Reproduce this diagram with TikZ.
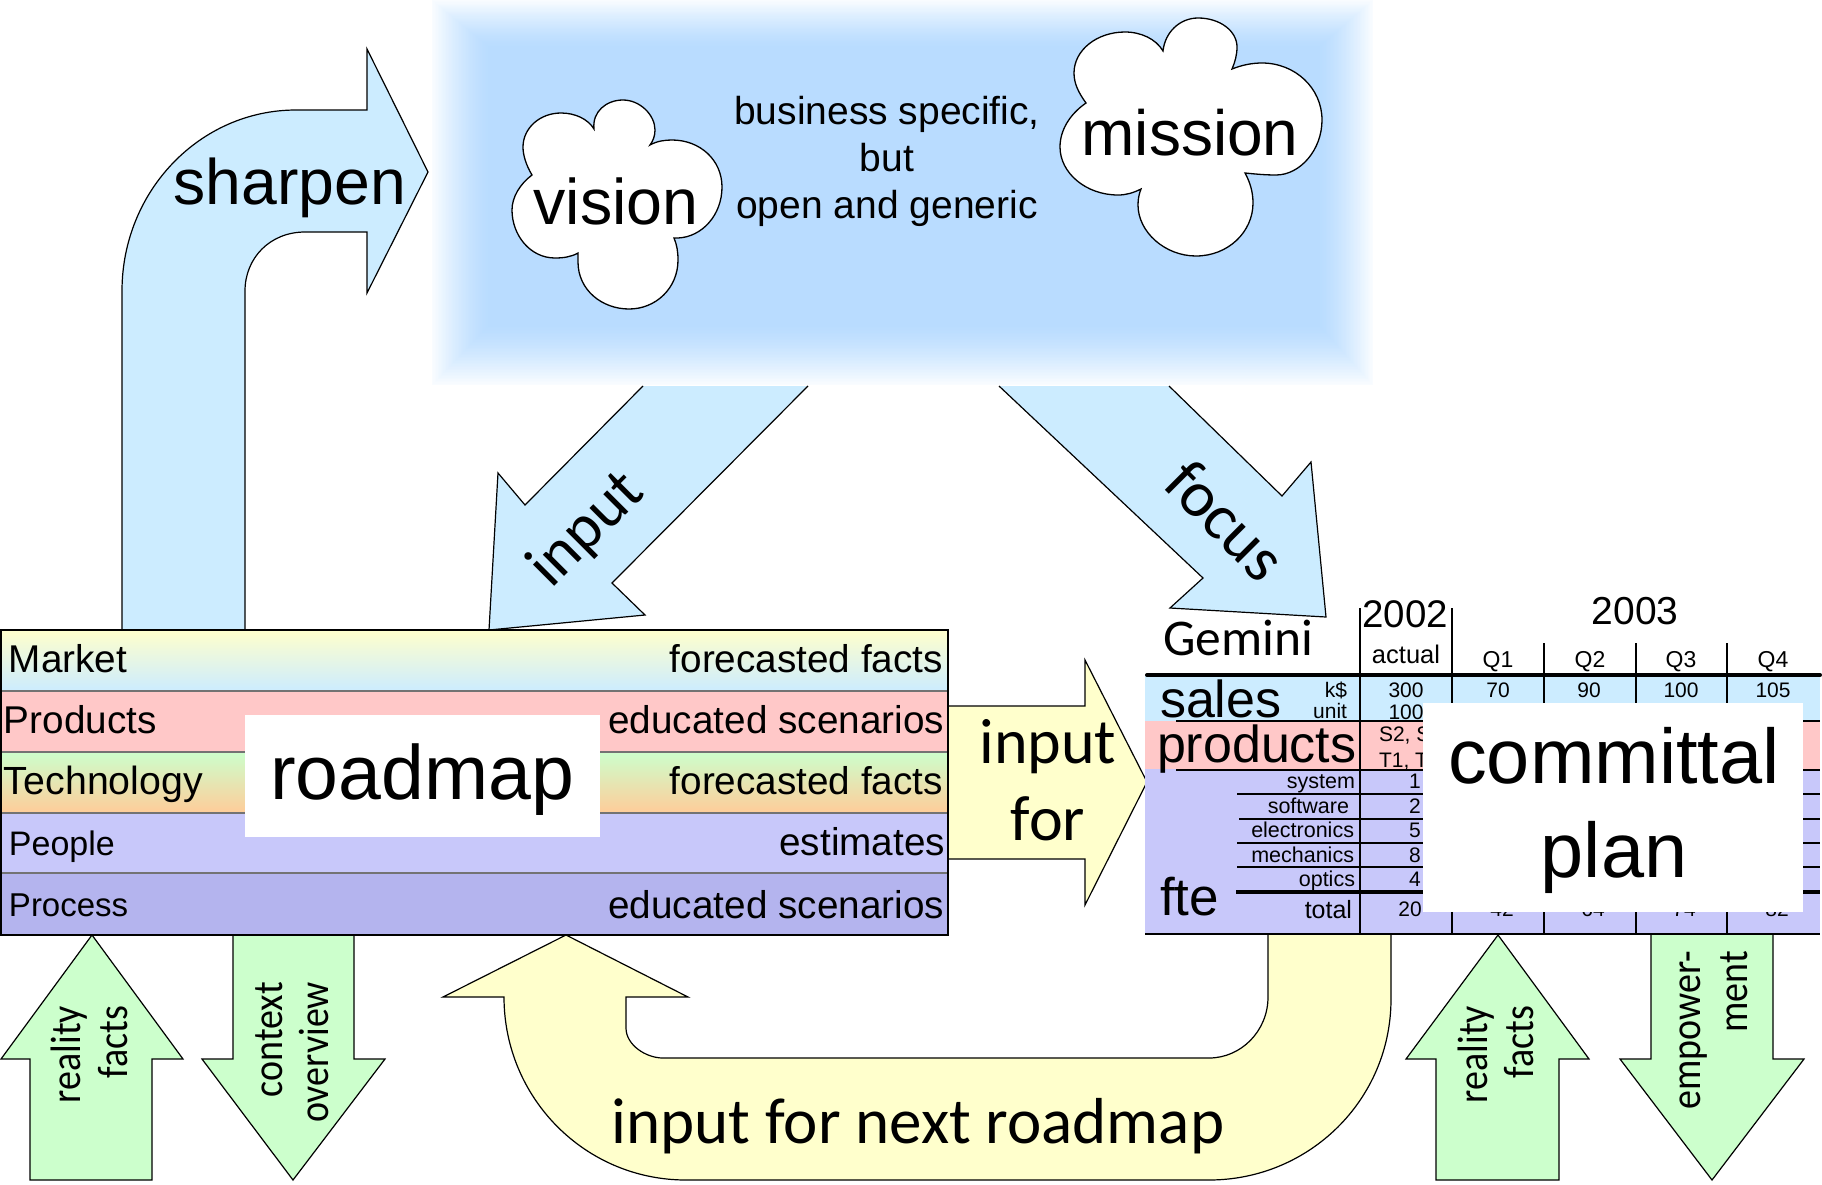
\documentclass[tikz,border=0pt]{standalone}
\usepackage{fontspec}
\setmainfont{Liberation Sans}
\newfontfamily\carl{Carlito}
\newcommand{\fsz}[1]{\fontsize{#1}{#1}\selectfont}
\definecolor{arrowblue}{HTML}{CCECFF}
\definecolor{arrowyellow}{HTML}{FFFFCC}
\definecolor{arrowgreen}{HTML}{CCFFCC}
\definecolor{glowblue}{HTML}{B9DCFF}
\definecolor{bandpink}{HTML}{FFC8C8}
\definecolor{bandorange}{HTML}{FFCC99}
\definecolor{bandlav}{HTML}{C8C8FA}
\definecolor{banddark}{HTML}{B4B4EE}
\tikzset{
  blk/.style={draw=black,line width=1.2pt,line join=miter},
  bluearrow/.style={blk,fill=arrowblue},
  yellowarrow/.style={blk,fill=arrowyellow},
  greenarrow/.style={blk,fill=arrowgreen},
  cloudshape/.style={draw=black,line width=1.3pt,fill=white},
  txt/.style={inner sep=0pt,outer sep=0pt,text=black},
  bandline/.style={draw=black!55,line width=1.5pt},
  tabthin/.style={draw=black,line width=2pt},
  tabthick/.style={draw=black,line width=4pt},
  bandtxt/.style={txt,font=\fsz{38.7}},
  num/.style={txt,font=\fsz{21}},
  sidelab/.style={txt,font=\carl\fsz{38},rotate=90,yscale=1.12,anchor=base east},
  rowlab/.style={txt,font=\fsz{21.5},anchor=base east},
}
\begin{document}
\begin{tikzpicture}[x=1pt,y=-1pt]
\useasboundingbox (0,0) rectangle (1822,1184);

% glow
\foreach \i in {0,...,40}{
  \pgfmathsetmacro{\t}{\i/40}
  \pgfmathsetmacro{\p}{8+92*(1-(1-\t)^1.4)}
  \pgfmathsetmacro{\xa}{432+57*\t}
  \pgfmathsetmacro{\xb}{1373-54*\t}
  \pgfmathsetmacro{\ya}{0+47*\t}
  \pgfmathsetmacro{\yb}{385-60*\t}
  \fill[glowblue!\p!white] (\xa,\ya) rectangle (\xb,\yb);
}

% clouds
\draw[cloudshape] (532,175)
  .. controls (526,165) and (523,155) .. (523,147)
  .. controls (523,128) and (540,113) .. (561,113)
  .. controls (575,113) and (588,119) .. (594,129)
  .. controls (592,112) and (606,100) .. (623,100)
  .. controls (640,100) and (655,115) .. (655,130)
  .. controls (655,136) and (653,141) .. (650,145)
  .. controls (657,141) and (665,140) .. (672,140)
  .. controls (700,140) and (722,160) .. (722,187)
  .. controls (722,215) and (702,237) .. (678,238)
  -- (674,238)
  .. controls (677,245) and (678,252) .. (678,260)
  .. controls (678,288) and (656,309) .. (629,309)
  .. controls (602,309) and (578,290) .. (578,262)
  .. controls (578,259) and (578,256) .. (578,253)
  .. controls (571,257) and (563,258) .. (555,258)
  .. controls (530,258) and (512,235) .. (512,210)
  .. controls (512,197) and (520,184) .. (532,175) -- cycle;
\draw[cloudshape] (1086,103)
  .. controls (1078,92) and (1074,83) .. (1074,73)
  .. controls (1074,50) and (1097,32) .. (1125,32)
  .. controls (1141,32) and (1156,39) .. (1163,51)
  .. controls (1165,32) and (1180,18) .. (1198,18)
  .. controls (1220,18) and (1237,31) .. (1237,47)
  .. controls (1237,55) and (1235,62) .. (1232,69)
  .. controls (1242,65) and (1252,63) .. (1262,63)
  .. controls (1295,63) and (1322,88) .. (1322,120)
  .. controls (1322,150) and (1300,175) .. (1276,175)
  .. controls (1265,175) and (1255,174) .. (1245,173)
  .. controls (1250,182) and (1253,192) .. (1253,203)
  .. controls (1253,232) and (1228,256) .. (1196,256)
  .. controls (1165,256) and (1138,232) .. (1138,205)
  .. controls (1138,199) and (1139,194) .. (1141,189)
  .. controls (1133,193) and (1126,195) .. (1118,195)
  .. controls (1086,195) and (1060,173) .. (1060,147)
  .. controls (1060,130) and (1070,114) .. (1086,103) -- cycle;
\node[txt,font=\fsz{64.5},anchor=base] (vision) at (616,224) {vision};
\node[txt,font=\fsz{64},anchor=base] (mission) at (1190,155) {mission};
\node[txt,font=\fsz{39},anchor=base] (busa) at (887,124) {business specific,};
\node[txt,font=\fsz{39},anchor=base] (busb) at (887,171) {but};
\node[txt,font=\fsz{39},anchor=base] (busc) at (887,218) {open and generic};

% big blue arrows
\draw[bluearrow] (122,631) -- (122,291) .. controls (122,191) and (200,110) .. (296,110)
  -- (367,110) -- (367,49) -- (428,172) -- (367,293) -- (367,232) -- (305,232)
  .. controls (270,232) and (245,258) .. (245,291) -- (245,631) -- cycle;
\node[txt,font=\fsz{64.3},anchor=base] (sharpen) at (290,204) {sharpen};

\draw[bluearrow] (643,386) -- (525,505) -- (498,473) -- (489,630) -- (645,615) -- (612,583) -- (808,386);
\node[txt,font=\carl\fsz{63},rotate=45] (input) at (587,530) {input};

\draw[bluearrow] (999,386) -- (1203,578) -- (1170,608) -- (1326,617) -- (1311,462) -- (1282,496) -- (1169,386);
\node[txt,font=\carl\fsz{65},rotate=-45] (focus) at (1226,520) {focus};

% input for
\draw[yellowarrow] (948,706) -- (1085,706) -- (1085,660) -- (1147,782) -- (1085,905) -- (1085,859) -- (948,859);
\node[txt,font=\carl\fsz{64},anchor=base] (infa) at (1048,763) {input};
\node[txt,font=\carl\fsz{64},anchor=base] (infb) at (1048,840) {for};

% next roadmap arrow
\draw[yellowarrow] (1391,935) -- (1391,999) .. controls (1391,1100) and (1309,1180) .. (1209,1180)
  -- (686,1180) .. controls (585,1180) and (504,1098) .. (504,997)
  -- (443,997) -- (566,935) -- (688,997) -- (626,997) -- (626,1028)
  .. controls (626,1045) and (646,1058) .. (663,1058) -- (1209,1058)
  .. controls (1241,1058) and (1268,1031) .. (1268,997) -- (1268,935);
\node[txt,font=\carl\fsz{65},anchor=base] (nextmap) at (918,1143) {input for next roadmap};

% green arrows
\draw[greenarrow] (92,935) -- (183,1059) -- (152,1059) -- (152,1180) -- (30,1180) -- (30,1059) -- (1,1059) -- cycle;
\node[sidelab] (rfa) at (80,1006) {reality};
\node[sidelab] (rfb) at (127,1006) {facts};
\draw[greenarrow] (233,935) -- (233,1059) -- (202,1059) -- (293,1180) -- (385,1059) -- (354,1059) -- (354,935);
\node[sidelab] (cxa) at (282,982) {context};
\node[sidelab] (cxb) at (328,982) {overview};
\draw[greenarrow] (1498,935) -- (1589,1059) -- (1559,1059) -- (1559,1180) -- (1436,1180) -- (1436,1059) -- (1406,1059) -- cycle;
\node[sidelab] (rga) at (1487,1006) {reality};
\node[sidelab] (rgb) at (1533,1006) {facts};
\draw[greenarrow] (1651,935) -- (1651,1059) -- (1620,1059) -- (1712,1180) -- (1804,1059) -- (1773,1059) -- (1773,935);
\node[sidelab] (ema) at (1700,951) {empower-};
\node[sidelab] (emb) at (1747,951) {ment};

% roadmap bands
\shade[top color=arrowyellow,bottom color=arrowblue] (1,630) rectangle (948,691);
\fill[bandpink] (1,691) rectangle (948,752);
\shade[top color=arrowgreen,bottom color=bandorange] (1,752) rectangle (948,813);
\fill[bandlav] (1,813) rectangle (948,873);
\fill[banddark] (1,873) rectangle (948,935);
\draw[bandline] (1,691) -- (948,691);
\draw[bandline] (1,752) -- (948,752);
\draw[bandline] (1,813) -- (948,813);
\draw[bandline] (1,873) -- (948,873);
\draw[draw=black,line width=2.5pt] (1,630) rectangle (948,935);
\node[bandtxt,anchor=base west] (lmarket) at (9,672) {Market};
\node[bandtxt,anchor=base west] (lproducts) at (4,733) {Products};
\node[bandtxt,font=\fsz{39.3},anchor=base west] (ltech) at (4,794) {Technology};
\node[txt,font=\fsz{34},anchor=base west] (lpeople) at (9,855) {People};
\node[txt,font=\fsz{33},anchor=base west] (lprocess) at (9,916) {Process};
\node[bandtxt,anchor=base east] (rmarket) at (943,672) {forecasted facts};
\node[bandtxt,anchor=base east] (rproducts) at (944,733) {educated scenarios};
\node[bandtxt,anchor=base east] (rtech) at (943,794) {forecasted facts};
\node[bandtxt,anchor=base east] (rpeople) at (945,855) {estimates};
\node[bandtxt,anchor=base east] (rprocess) at (944,918) {educated scenarios};
\fill[white] (245,715) rectangle (600,837);
\node[txt,font=\fsz{77},anchor=base] (roadmap) at (422,799) {roadmap};

% table bands
\fill[arrowblue] (1145,675) rectangle (1820,721);
\fill[bandpink] (1145,721) rectangle (1820,769);
\fill[bandlav] (1145,769) rectangle (1820,934);
% table rules
\draw[tabthin] (1360,608) -- (1360,934);
\draw[tabthin] (1452,608) -- (1452,934);
\draw[tabthin] (1544,643) -- (1544,934);
\draw[tabthin] (1636,643) -- (1636,934);
\draw[tabthin] (1727,643) -- (1727,934);
\draw[tabthick,line cap=round] (1147,675) -- (1820,675);
\draw[tabthin] (1176,721) -- (1820,721);
\draw[tabthin] (1176,770) -- (1820,770);
\draw[tabthin] (1237,794) -- (1820,794);
\draw[tabthin] (1239,819) -- (1820,819);
\draw[tabthin] (1237,843) -- (1820,843);
\draw[tabthin] (1237,867) -- (1820,867);
\draw[draw=black,line width=3.5pt] (1236,892) -- (1820,892);
\draw[draw=black,line width=2.5pt] (1145,934) -- (1820,934);
% table headings
\node[txt,font=\carl\fsz{51.5},anchor=base west] (gemini) at (1163,655) {Gemini};
\node[txt,font=\fsz{38.5},anchor=base] (ya) at (1405,627) {2002};
\node[txt,font=\fsz{39},anchor=base] (yb) at (1635,624) {2003};
\node[txt,font=\fsz{25.5},anchor=base] (actual) at (1406,663) {actual};
\node[txt,font=\fsz{23},anchor=base] (qa) at (1498,667) {Q1};
\node[txt,font=\fsz{23},anchor=base] (qb) at (1590,667) {Q2};
\node[txt,font=\fsz{23},anchor=base] (qc) at (1681,667) {Q3};
\node[txt,font=\fsz{23},anchor=base] (qd) at (1773,667) {Q4};
\node[txt,font=\fsz{52},anchor=base west] (sales) at (1160,717) {sales};
\node[txt,font=\fsz{52},anchor=base west] (products) at (1157,762) {products};
\node[txt,font=\fsz{53},anchor=base west] (fte) at (1160,915) {fte};
\node[rowlab,font=\fsz{21}] (kd) at (1347,697) {k\$};
\node[rowlab,font=\fsz{21}] (unit) at (1347,718) {unit};
\node[rowlab] (rsys) at (1355,788) {system};
\node[rowlab] (rsw) at (1349,813) {software};
\node[rowlab] (rel) at (1354,837) {electronics};
\node[rowlab] (rme) at (1354,862) {mechanics};
\node[rowlab] (rop) at (1355,886) {optics};
\node[txt,font=\fsz{25},anchor=base east] (rtot) at (1352,918) {total};
\node[num,anchor=base] (na) at (1406,697) {300};
\node[num,anchor=base] (nb) at (1498,697) {70};
\node[num,anchor=base] (nc) at (1589,697) {90};
\node[num,anchor=base] (nd) at (1681,697) {100};
\node[num,anchor=base] (ne) at (1773,697) {105};
\node[num,anchor=base] (nf) at (1406,719) {100};
\node[num,anchor=base west] (ng) at (1379,741) {S2, S};
\node[num,anchor=base west] (nh) at (1379,767) {T1, T};
\node[num,anchor=base] (ni) at (1415,788) {1};
\node[num,anchor=base] (nj) at (1415,813) {2};
\node[num,anchor=base] (nk) at (1415,837) {5};
\node[num,anchor=base] (nl) at (1415,862) {8};
\node[num,anchor=base] (nm) at (1415,886) {4};
\node[num,anchor=base] (nn) at (1410,916) {20};
\node[num,anchor=base] (no) at (1502,916) {42};
\node[num,anchor=base] (np) at (1593,916) {64};
\node[num,anchor=base] (nq) at (1684,916) {74};
\node[num,anchor=base] (nr) at (1777,916) {82};
\fill[white] (1423,703) rectangle (1803,912);
\node[txt,font=\fsz{77.5},anchor=base] (committal) at (1614,783) {committal};
\node[txt,font=\fsz{77.5},anchor=base] (plan) at (1614,877) {plan};
\end{tikzpicture}
\end{document}
